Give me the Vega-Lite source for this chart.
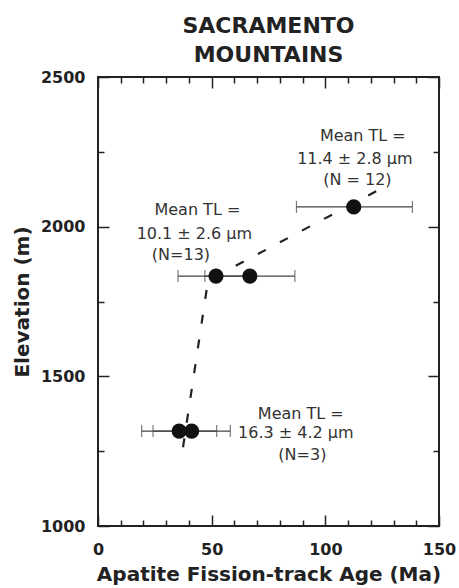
{
  "$schema": "https://vega.github.io/schema/vega-lite/v6.json",
  "width": 341,
  "height": 449,
  "autosize": {"type": "none"},
  "padding": {"left": 98, "top": 77, "right": 20, "bottom": 62},
  "background": "white",
  "config": {"view": {"stroke": "#222", "strokeWidth": 2}, "font": "DejaVu Sans"},
  "title": {"text": ["SACRAMENTO", "MOUNTAINS"], "font": "DejaVu Sans", "fontSize": 22, "fontWeight": "bold", "color": "#222", "lineHeight": 29, "frame": "group", "anchor": "middle", "offset": 2},
  "datasets": {
    "pts": [
      {"age": 35.7, "lo": 19.2, "hi": 52.2, "elev": 1317},
      {"age": 41.2, "lo": 24.2, "hi": 58.2, "elev": 1317},
      {"age": 51.9, "lo": 35.2, "hi": 68.6, "elev": 1835},
      {"age": 66.8, "lo": 47.0, "hi": 86.6, "elev": 1835},
      {"age": 112.5, "lo": 87.3, "hi": 138.3, "elev": 2066}
    ],
    "trend": [
      {"lx": 37.4, "ly": 1263},
      {"lx": 48.4, "ly": 1820},
      {"lx": 126.2, "ly": 2134}
    ],
    "notes": [
      {"tx": 116.5, "ty": 2286, "label": "Mean TL ="},
      {"tx": 113.0, "ty": 2211, "label": "11.4 ± 2.8 μm"},
      {"tx": 114.1, "ty": 2138, "label": "(N = 12)"},
      {"tx": 43.7, "ty": 2038, "label": "Mean TL ="},
      {"tx": 42.4, "ty": 1960, "label": "10.1 ± 2.6 μm"},
      {"tx": 36.5, "ty": 1888, "label": "(N=13)"},
      {"tx": 89.2, "ty": 1358, "label": "Mean TL ="},
      {"tx": 87.0, "ty": 1293, "label": "16.3 ± 4.2 μm"},
      {"tx": 89.9, "ty": 1220, "label": "(N=3)"}
    ]
  },
  "layer": [
    {
      "data": {"name": "pts"},
      "mark": {"type": "rule", "color": "#444", "strokeWidth": 1.2},
      "encoding": {
        "x": {"field": "lo", "type": "quantitative", "scale": {"domain": [0, 150], "nice": false, "zero": false},
          "axis": {"orient": "bottom", "values": [0,10,20,30,40,50,60,70,80,90,100,110,120,130,140,150], "domain": false, "grid": false, "format": "d",
            "tickSize": {"condition": {"test": "datum.value % 50 === 0", "value": -11}, "value": -6},
            "tickColor": "#222", "tickWidth": 1.5,
            "labelExpr": "datum.value % 50 === 0 ? datum.label : ''",
            "labelFont": "DejaVu Sans", "labelFontWeight": "bold", "labelFontSize": 16, "labelColor": "#222", "labelPadding": 26, "labelFlush": false, "labelOverlap": false,
            "title": "Apatite Fission-track Age (Ma)", "titleFont": "DejaVu Sans", "titleFontWeight": "bold", "titleFontSize": 20, "titleColor": "#222", "titlePadding": 2}},
        "x2": {"field": "hi"},
        "y": {"field": "elev", "type": "quantitative", "scale": {"domain": [1000, 2500], "nice": false, "zero": false},
          "axis": {"orient": "left", "values": [1000,1250,1500,1750,2000,2250,2500], "domain": false, "grid": false, "format": "d",
            "tickSize": {"condition": {"test": "datum.value % 500 === 0", "value": -11}, "value": -6},
            "tickColor": "#222", "tickWidth": 1.5,
            "labelExpr": "datum.value % 500 === 0 ? datum.label : ''",
            "labelFont": "DejaVu Sans", "labelFontWeight": "bold", "labelFontSize": 16, "labelColor": "#222", "labelPadding": 24, "labelOverlap": false, "labelFlush": false,
            "title": "Elevation (m)", "titleFont": "DejaVu Sans", "titleFontWeight": "bold", "titleFontSize": 20, "titleColor": "#222", "titlePadding": 8}}
      }
    },
    {
      "data": {"name": "pts"},
      "mark": {"type": "tick", "orient": "vertical", "size": 12, "thickness": 1.2, "color": "#444"},
      "encoding": {
        "x": {"field": "lo", "type": "quantitative", "axis": null},
        "y": {"field": "elev", "type": "quantitative", "axis": null}
      }
    },
    {
      "data": {"name": "pts"},
      "mark": {"type": "tick", "orient": "vertical", "size": 12, "thickness": 1.2, "color": "#444"},
      "encoding": {
        "x": {"field": "hi", "type": "quantitative", "axis": null},
        "y": {"field": "elev", "type": "quantitative", "axis": null}
      }
    },
    {
      "data": {"name": "trend"},
      "mark": {"type": "line", "color": "#222", "strokeWidth": 2.2, "strokeDash": [9, 16]},
      "encoding": {
        "x": {"field": "lx", "type": "quantitative",
          "axis": {"orient": "top", "values": [0,10,20,30,40,50,60,70,80,90,100,110,120,130,140,150], "domain": false, "grid": false, "labels": false, "title": null,
            "tickSize": {"condition": {"test": "datum.value % 50 === 0", "value": -11}, "value": -6},
            "tickColor": "#222", "tickWidth": 1.5}},
        "y": {"field": "ly", "type": "quantitative",
          "axis": {"orient": "right", "values": [1000,1250,1500,1750,2000,2250,2500], "domain": false, "grid": false, "labels": false, "title": null,
            "tickSize": {"condition": {"test": "datum.value % 500 === 0", "value": -11}, "value": -6},
            "tickColor": "#222", "tickWidth": 1.5}}
      }
    },
    {
      "data": {"name": "pts"},
      "mark": {"type": "circle", "size": 230, "color": "#111", "opacity": 1},
      "encoding": {
        "x": {"field": "age", "type": "quantitative", "axis": null},
        "y": {"field": "elev", "type": "quantitative", "axis": null}
      }
    },
    {
      "data": {"name": "notes"},
      "mark": {"type": "text", "align": "center", "baseline": "alphabetic", "font": "DejaVu Sans", "fontSize": 16, "color": "#333"},
      "encoding": {
        "x": {"field": "tx", "type": "quantitative", "axis": null},
        "y": {"field": "ty", "type": "quantitative", "axis": null},
        "text": {"field": "label", "type": "nominal"}
      }
    }
  ],
  "resolve": {"axis": {"x": "independent", "y": "independent"}}
}
